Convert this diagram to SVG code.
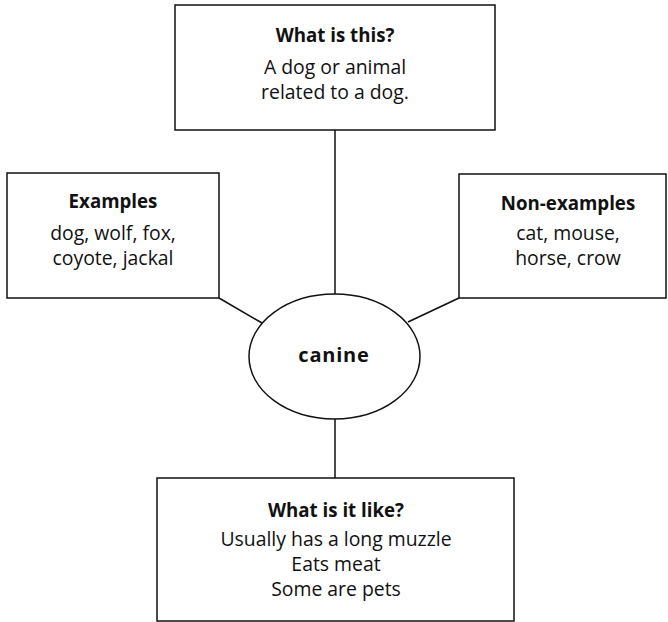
<svg xmlns="http://www.w3.org/2000/svg" width="668" height="622" viewBox="0 0 668 622">
<style>
.box{fill:#fff;stroke:#111;stroke-width:1.5}
.conn line{stroke:#111;stroke-width:1.5}
text{font-family:"Open Sans","Noto Sans",sans-serif;fill:#111;text-anchor:middle}
.h{font-weight:bold;font-size:18.7px}
.b{font-size:19.4px}
.c{font-weight:bold;font-size:20px;letter-spacing:0.8px}
</style>
<rect width="668" height="622" fill="#fff"/>
<g id="connectors" class="conn">
<line x1="335" y1="130" x2="335" y2="294"/>
<line x1="219" y1="298" x2="262" y2="323"/>
<line x1="459" y1="298" x2="408" y2="322"/>
<line x1="335" y1="419" x2="335" y2="478"/>
</g>
<g id="what-is-this">
<rect class="box" x="175" y="5" width="320" height="125"/>
<text class="h" x="335" y="42">What is this?</text>
<text class="b" x="335" y="73.5">A dog or animal</text>
<text class="b" x="335" y="98.5">related to a dog.</text>
</g>
<g id="examples">
<rect class="box" x="7" y="173" width="212" height="125"/>
<text class="h" x="113" y="208">Examples</text>
<text class="b" x="113" y="240">dog, wolf, fox,</text>
<text class="b" x="113" y="265">coyote, jackal</text>
</g>
<g id="non-examples">
<rect class="box" x="459" y="174" width="207" height="124"/>
<text class="h" x="568" y="210">Non-examples</text>
<text class="b" x="568" y="240">cat, mouse,</text>
<text class="b" x="568" y="265">horse, crow</text>
</g>
<g id="canine">
<ellipse class="box" cx="334.5" cy="356.5" rx="85.5" ry="62.5"/>
<text class="c" x="334" y="362">canine</text>
</g>
<g id="what-is-it-like">
<rect class="box" x="157" y="478" width="357" height="143"/>
<text class="h" x="336" y="517">What is it like?</text>
<text class="b" x="336" y="545.5">Usually has a long muzzle</text>
<text class="b" x="336" y="570.5">Eats meat</text>
<text class="b" x="336" y="595.5">Some are pets</text>
</g>
</svg>
